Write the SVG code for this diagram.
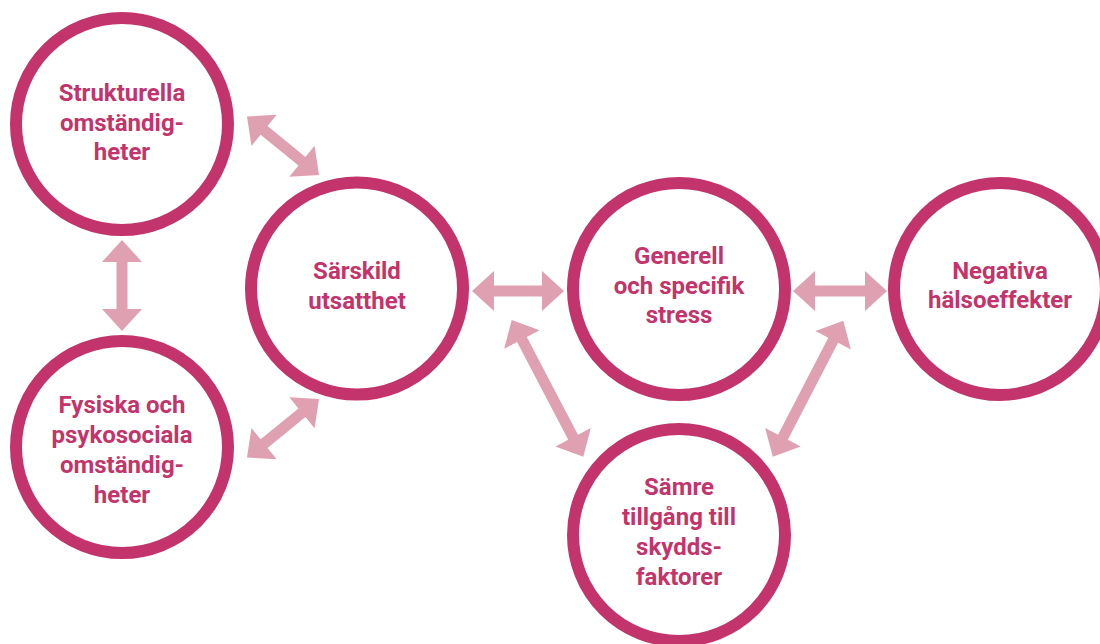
<svg xmlns="http://www.w3.org/2000/svg" width="1100" height="644" viewBox="0 0 1100 644">
<style>
.node circle{fill:#ffffff;stroke:#c2346b;stroke-width:12}
.node text{font-family:Roboto,"Liberation Sans",sans-serif;font-weight:700;font-size:24px;fill:#c2346b;text-anchor:middle}
.arrow{fill:#dfa1b1}
</style>
<rect width="1100" height="644" fill="#ffffff"/>
<g id="connectors">
<g transform="translate(122,240) rotate(90)"><path class="arrow" d="M0,0 L22,-20 L22,-5.5 L69,-5.5 L69,-20 L91,0 L69,20 L69,5.5 L22,5.5 L22,20 Z"/></g>
<g transform="translate(247,116.5) rotate(39.1)"><path class="arrow" d="M0,0 L22,-20 L22,-5.5 L70.8,-5.5 L70.8,-20 L92.8,0 L70.8,20 L70.8,5.5 L22,5.5 L22,20 Z"/></g>
<g transform="translate(247,457.5) rotate(-39.1)"><path class="arrow" d="M0,0 L22,-20 L22,-5.5 L70.8,-5.5 L70.8,-20 L92.8,0 L70.8,20 L70.8,5.5 L22,5.5 L22,20 Z"/></g>
<g transform="translate(472,291)"><path class="arrow" d="M0,0 L22,-20 L22,-5.5 L70,-5.5 L70,-20 L92,0 L70,20 L70,5.5 L22,5.5 L22,20 Z"/></g>
<g transform="translate(793,291)"><path class="arrow" d="M0,0 L22,-20 L22,-5.5 L72,-5.5 L72,-20 L94,0 L72,20 L72,5.5 L22,5.5 L22,20 Z"/></g>
<g transform="translate(511.7,320) rotate(62.35)"><path class="arrow" d="M0,0 L22,-20 L22,-5.5 L132.3,-5.5 L132.3,-20 L154.3,0 L132.3,20 L132.3,5.5 L22,5.5 L22,20 Z"/></g>
<g transform="translate(843.3,320.7) rotate(117.4)"><path class="arrow" d="M0,0 L22,-20 L22,-5.5 L131.2,-5.5 L131.2,-20 L153.2,0 L131.2,20 L131.2,5.5 L22,5.5 L22,20 Z"/></g>
</g>
<g id="strukturella" class="node">
<circle cx="122" cy="124" r="106"/>
<text x="122" y="101">Strukturella</text>
<text x="122" y="130.5">omständig-</text>
<text x="122" y="160">heter</text>
</g>
<g id="fysiska" class="node">
<circle cx="122" cy="447" r="106"/>
<text x="122" y="413">Fysiska och</text>
<text x="122" y="443">psykosociala</text>
<text x="122" y="472.5">omständig-</text>
<text x="122" y="502.5">heter</text>
</g>
<g id="sarskild" class="node">
<circle cx="357" cy="288.5" r="106"/>
<text x="357" y="279">Särskild</text>
<text x="357" y="308.5">utsatthet</text>
</g>
<g id="generell" class="node">
<circle cx="679" cy="289" r="106"/>
<text x="679" y="264">Generell</text>
<text x="679" y="293.5">och specifik</text>
<text x="679" y="323">stress</text>
</g>
<g id="negativa" class="node">
<circle cx="1000" cy="289" r="106"/>
<text x="1000" y="278.5">Negativa</text>
<text x="1000" y="308">hälsoeffekter</text>
</g>
<g id="samre" class="node">
<circle cx="679" cy="535" r="106"/>
<text x="679" y="495">Sämre</text>
<text x="679" y="525">tillgång till</text>
<text x="679" y="555">skydds-</text>
<text x="679" y="584.5">faktorer</text>
</g>
</svg>
